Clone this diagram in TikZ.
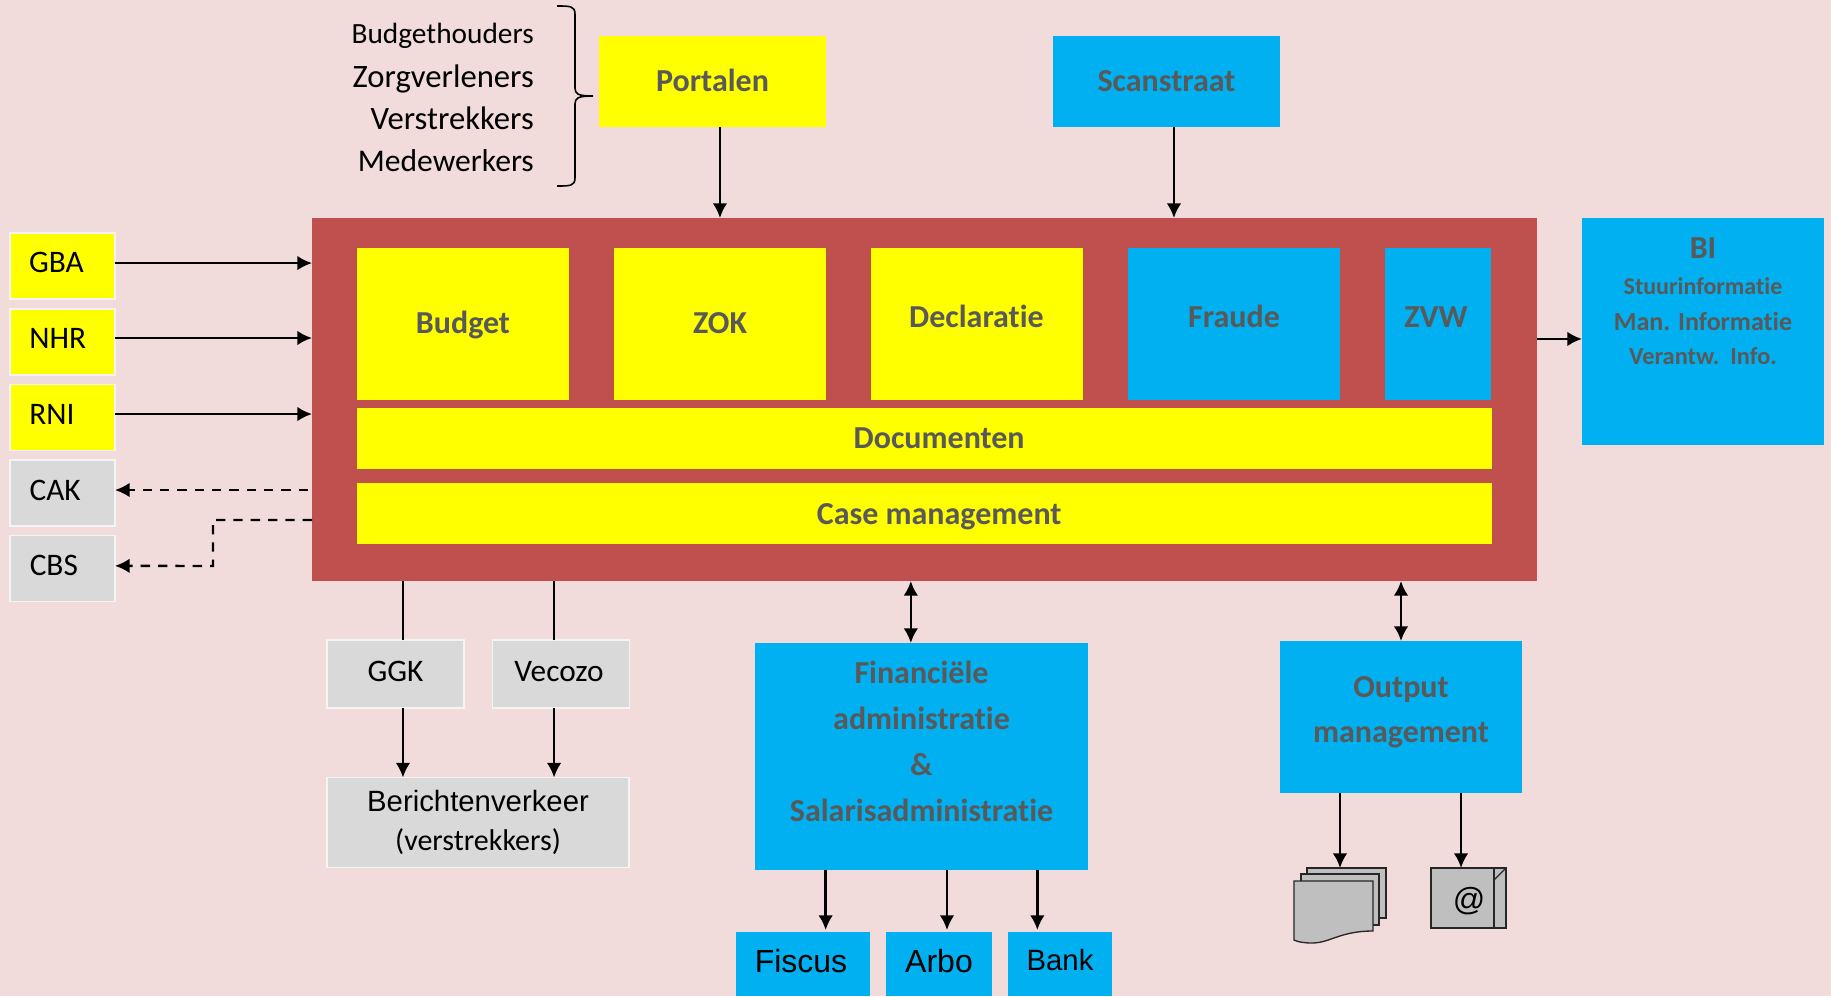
\documentclass[tikz,border=0pt]{standalone}
\usepackage{fontspec}
\setmainfont[Ligatures=NoCommon]{Carlito}
\newfontfamily\arialfont{Liberation Sans}
\usepackage{tikz}
\usetikzlibrary{arrows.meta}
\definecolor{achtergrond}{HTML}{F2DCDB}
\definecolor{kernrood}{HTML}{C0504D}
\definecolor{geel}{HTML}{FFFF00}
\definecolor{blauw}{HTML}{00B0F0}
\definecolor{grijs}{HTML}{D9D9D9}
\definecolor{tekstgrijs}{HTML}{595959}
\definecolor{icoongrijs}{HTML}{BFBFBF}
\newcommand{\verschuif}[3]{\raisebox{#2}[0pt][0pt]{\makebox[0pt]{\hspace{#1}#3}}}
\tikzset{
    maat/.style 2 args={minimum width=#1*0.75pt, minimum height=#2*0.75pt, inner sep=0pt, outer sep=0pt},
    kop/.style={font=\fontsize{24}{24}\selectfont\bfseries, text=tekstgrijs, align=center, inner sep=0pt},
    gblok/.style={kop, fill=geel},
    bblok/.style={kop, fill=blauw},
    extern/.style={draw=white!70!grijs, line width=1.2pt, font=\fontsize{23.5}{23.5}\selectfont},
    pijl/.style={line width=1.9pt, -{Latex[length=11pt,width=11pt]}},
    tweepijl/.style={line width=1.9pt, {Latex[length=11pt,width=11pt]}-{Latex[length=11pt,width=11pt]}},
    stippijl/.style={line width=1.8pt, dash pattern=on 7pt off 6pt, -{Latex[length=11pt,width=11pt]}},
    rol/.style={anchor=base east, inner sep=0pt, font=\fontsize{24.5}{24.5}\selectfont},
    blad/.style={fill=icoongrijs, draw=black!85, line width=1pt},
}
\begin{document}
\begin{tikzpicture}[x=0.75pt, y=-0.75pt]
    \useasboundingbox[fill=achtergrond] (0,0) rectangle (1831,996);
    % rollen en portaal
    \node[rol, font=\fontsize{22}{22}\selectfont] (budgethouders) at (534,43) {Budgethouders};
    \node[rol] (zorgverleners) at (534,87) {Zorgverleners};
    \node[rol] (verstrekkers) at (534,129) {Verstrekkers};
    \node[rol, font=\fontsize{23.7}{23.7}\selectfont] (medewerkers) at (534,171) {Medewerkers};
    \draw[line width=1.2pt] (557,6) .. controls (570,6) and (575,6) .. (575,14) -- (575,88) .. controls (575,94) and (578,96) .. (593,96)
        .. controls (578,96) and (575,98) .. (575,104) -- (575,178) .. controls (575,186) and (570,186) .. (557,186);
    \node[gblok, maat={227}{91}] (portalen) at (712.5,81.5) {\verschuif{0pt}{-7.5pt}{Portalen}};
    \node[bblok, maat={227}{91}] (scanstraat) at (1166.5,81.5) {\verschuif{0pt}{-7.5pt}{Scanstraat}};
    % kern
    \node[fill=kernrood, maat={1225}{363}] (kern) at (924.5,399.5) {};
    \node[gblok, maat={212}{152}] (budget) at (463,324) {\verschuif{0pt}{-7pt}{Budget}};
    \node[gblok, maat={212}{152}] (zok) at (720,324) {\verschuif{0pt}{-7pt}{ZOK}};
    \node[gblok, maat={212}{152}] (declaratie) at (976.5,324) {\verschuif{0pt}{-2.5pt}{Declaratie}};
    \node[bblok, maat={212}{152}] (fraude) at (1234,324) {\verschuif{0pt}{-2.5pt}{Fraude}};
    \node[bblok, maat={106}{152}] (zvw) at (1438,324) {\verschuif{-3pt}{-2.5pt}{ZVW}};
    \node[gblok, maat={1135}{61}] (documenten) at (924.5,438.5) {\verschuif{22pt}{-7.5pt}{Documenten}};
    \node[gblok, maat={1135}{61}] (casemanagement) at (924.5,513.5) {\verschuif{22pt}{-8pt}{Case management}};
    \node[bblok, maat={242}{227}, anchor=north west] (bi) at (1582,218) {};
    \node[kop, anchor=base] (bikop) at (1703,258) {BI};
    \node[kop, anchor=base, font=\fontsize{18}{18}\selectfont\bfseries] (stuurinfo) at (1703,294) {Stuurinformatie};
    \node[kop, anchor=base, font=\fontsize{19.5}{19.5}\selectfont\bfseries] (maninfo) at (1703,330) {Man. Informatie};
    \node[kop, anchor=base, font=\fontsize{18.3}{18.3}\selectfont\bfseries] (verantwinfo) at (1703,364) {Verantw.\ \ Info.};
    % links
    \node[extern, fill=geel, maat={105}{66}] (gba) at (62.5,266) {\verschuif{-9pt}{-5pt}{GBA}};
    \node[extern, fill=geel, maat={105}{66}] (nhr) at (62.5,342) {\verschuif{-7pt}{-5pt}{NHR}};
    \node[extern, fill=geel, maat={105}{66}] (rni) at (62.5,417.5) {\verschuif{-16pt}{-5.5pt}{RNI}};
    \node[extern, fill=grijs, maat={105}{66}] (cak) at (62.5,493) {\verschuif{-11pt}{-5.5pt}{CAK}};
    \node[extern, fill=grijs, maat={105}{66}] (cbs) at (62.5,568.5) {\verschuif{-13pt}{-5.5pt}{CBS}};
    \draw[pijl] ([yshift=2.2pt]gba.east) -- ([yshift=2.2pt]gba.east -| kern.west);
    \draw[pijl] ([yshift=3pt]nhr.east) -- ([yshift=3pt]nhr.east -| kern.west);
    \draw[pijl] ([yshift=2.6pt]rni.east) -- ([yshift=2.6pt]rni.east -| kern.west);
    \coordinate (cakuit) at (308,490);
    \coordinate (cbsuit) at (312,520);
    \coordinate (cbsknik) at (213,520);
    \draw[stippijl] (cakuit) -- (cakuit -| cak.east);
    \draw[stippijl] (cbsuit) -- (cbsknik) -- (cbsknik |- 0,566) -- ([yshift=2pt]cbs.east);
    % boven en rechts
    \draw[pijl] ([xshift=5.6pt]portalen.south) -- ([xshift=5.6pt]portalen.south |- kern.north);
    \draw[pijl] ([xshift=5.6pt]scanstraat.south) -- ([xshift=5.6pt]scanstraat.south |- kern.north);
    \draw[pijl] ([yshift=-5.6pt]bi.west -| kern.east) -- ([yshift=-5.6pt]bi.west);
    % onder links
    \node[extern, fill=grijs, maat={137}{68}] (ggk) at (395.5,674) {\verschuif{0pt}{-5.3pt}{GGK}};
    \node[extern, fill=grijs, maat={137}{68}] (vecozo) at (561,674) {\verschuif{-3pt}{-5.3pt}{Vecozo}};
    \node[extern, fill=grijs, maat={302}{90}, align=center, font=\fontsize{22}{26}\selectfont\arialfont] (berichtenverkeer) at (478,822.5) {Berichtenverkeer\\[3pt]{\rmfamily\fontsize{22.5}{22.5}\selectfont (verstrekkers)}};
    \draw[line width=1.9pt] ([xshift=5.6pt]ggk.north) -- ([xshift=5.6pt]ggk.north |- kern.south);
    \draw[line width=1.9pt] ([xshift=-5.2pt]vecozo.north) -- ([xshift=-5.2pt]vecozo.north |- kern.south);
    \draw[pijl] ([xshift=5.6pt]ggk.south) -- ([xshift=5.6pt]ggk.south |- berichtenverkeer.north);
    \draw[pijl] ([xshift=-5.2pt]vecozo.south) -- ([xshift=-5.2pt]vecozo.south |- berichtenverkeer.north);
    % financieel
    \node[bblok, maat={333}{227}] (financieel) at (921.5,756.5) {};
    \node[kop, anchor=base] (financiele) at (921.5,683) {Financiële};
    \node[kop, anchor=base] (administratie) at (921.5,729) {administratie};
    \node[kop, anchor=base] (en) at (921.5,775) {\&};
    \node[kop, anchor=base] (salaris) at (921.5,821) {Salarisadministratie};
    \node[bblok, fill=blauw, maat={134}{64}, font=\fontsize{24}{24}\selectfont\arialfont, text=black] (fiscus) at (803,964) {\verschuif{-3pt}{-6.5pt}{Fiscus}};
    \node[bblok, maat={106}{64}, font=\fontsize{24}{24}\selectfont\arialfont, text=black] (arbo) at (939,964) {\verschuif{0pt}{-6.5pt}{Arbo}};
    \node[bblok, maat={104}{64}, font=\fontsize{22}{22}\selectfont\arialfont, text=black] (bank) at (1060,964) {\verschuif{0pt}{-4.8pt}{Bank}};
    \draw[tweepijl] ([xshift=-8pt]financieel.north) -- ([xshift=-8pt]financieel.north |- kern.south);
    \draw[pijl] ([xshift=17pt]fiscus.north |- financieel.south) -- ([xshift=17pt,yshift=1.5pt]fiscus.north);
    \draw[pijl] ([xshift=6pt]arbo.north |- financieel.south) -- ([xshift=6pt,yshift=1.5pt]arbo.north);
    \draw[pijl] ([xshift=-17pt]bank.north |- financieel.south) -- ([xshift=-17pt,yshift=1.5pt]bank.north);
    % output
    \node[bblok, maat={242}{152}] (output) at (1401,717) {};
    \node[kop, anchor=base] (outputkop) at (1401,697) {Output};
    \node[kop, anchor=base] (management) at (1401,742) {management};
    \draw[tweepijl] (output.north) -- (output.north |- kern.south);
    % stapel en mail
    \draw[blad] (1307,868) rectangle (1386,918);
    \draw[blad] (1301,874) rectangle (1379,925);
    \draw[blad] (1294,881) -- (1373,881) -- (1373,931) .. controls (1340,931) and (1330,943) .. (1312,943) .. controls (1304,943) and (1298,942) .. (1294,940) -- cycle;
    \coordinate (stapel) at (1340,868);
    \node[blad, maat={75}{60}, font=\fontsize{24}{24}\selectfont\arialfont, anchor=north west] (mail) at (1431,868) {\verschuif{1pt}{-9pt}{@}};
    \draw[blad] (1494,868) rectangle (1506,928);
    \draw[blad] (1494,880) -- (1506,868);
    \draw[pijl] (stapel |- output.south) -- (stapel);
    \draw[pijl] ([xshift=-5.6pt]mail.north |- output.south) -- ([xshift=-5.6pt]mail.north);
\end{tikzpicture}
\end{document}
